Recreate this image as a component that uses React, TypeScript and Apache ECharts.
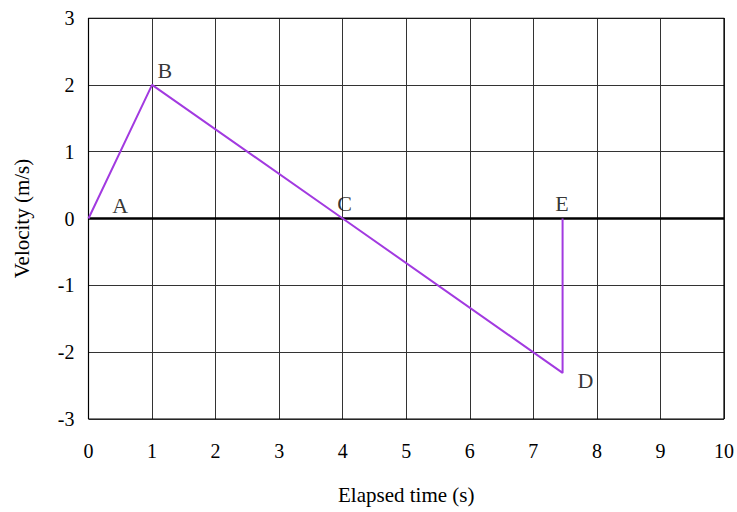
import React, { useEffect, useRef } from "react";
import * as echarts from "echarts";

const pathPoints: [number, number][] = [
  [0, 0],
  [1, 2],
  [4, 0],
  [7.46, -2.31],
  [7.46, 0],
];
const pointLabels = ["A", "B", "C", "D", "E"];
const labelPositions: [number, number][] = [
  [0.5, 0.2],
  [1.2, 2.21],
  [4.03, 0.22],
  [7.82, -2.42],
  [7.45, 0.22],
];
const xTicks = [0, 1, 2, 3, 4, 5, 6, 7, 8, 9, 10];
const yTicks = [-3, -2, -1, 0, 1, 2, 3];

const FONT = "'Liberation Serif', 'DejaVu Serif', serif";

export default function App() {
  const ref = useRef<HTMLDivElement>(null);
  useEffect(() => {
    if (!ref.current) return;
    const chart = echarts.init(ref.current, undefined, { renderer: "svg" });
    chart.setOption({
      animation: false,
      backgroundColor: "#ffffff",
      grid: { left: 88.5, right: 13, top: 18, bottom: 93 },
      xAxis: {
        type: "value",
        min: xTicks[0],
        max: xTicks[xTicks.length - 1],
        interval: 1,
        name: "Elapsed time (s)",
        nameLocation: "middle",
        nameGap: 65,
        nameTextStyle: { fontFamily: FONT, fontSize: 21, color: "#000" },
        axisLine: { show: false },
        axisTick: { show: false },
        axisLabel: { fontFamily: FONT, fontSize: 20, color: "#000", margin: 22 },
        splitLine: { show: true, lineStyle: { color: "#333", width: 1 } },
      },
      yAxis: {
        type: "value",
        min: yTicks[0],
        max: yTicks[yTicks.length - 1],
        interval: 1,
        name: "Velocity (m/s)",
        nameLocation: "middle",
        nameGap: 56,
        nameRotate: 90,
        nameTextStyle: { fontFamily: FONT, fontSize: 21, color: "#000" },
        axisLine: { show: false },
        axisTick: { show: false },
        axisLabel: { fontFamily: FONT, fontSize: 20, color: "#000", margin: 14 },
        splitLine: { show: true, lineStyle: { color: "#333", width: 1 } },
      },
      series: [
        {
          type: "line",
          data: [
            [xTicks[0], 0],
            [xTicks[xTicks.length - 1], 0],
          ],
          symbol: "none",
          lineStyle: { color: "#000", width: 2.5 },
          silent: true,
          z: 2,
        },
        {
          type: "line",
          data: [
            [xTicks[0], yTicks[0]],
            [xTicks[xTicks.length - 1], yTicks[0]],
            [xTicks[xTicks.length - 1], yTicks[yTicks.length - 1]],
            [xTicks[0], yTicks[yTicks.length - 1]],
            [xTicks[0], yTicks[0]],
          ],
          symbol: "none",
          lineStyle: { color: "#000", width: 1.2 },
          silent: true,
          z: 2,
        },
        {
          type: "line",
          data: pathPoints,
          symbol: "none",
          lineStyle: { color: "#a23ae0", width: 2 },
          z: 3,
        },
        {
          type: "scatter",
          data: labelPositions.map((p, i) => ({ value: p, name: pointLabels[i] })),
          symbolSize: 0,
          label: {
            show: true,
            position: "inside",
            formatter: (p: any) => p.name,
            fontFamily: FONT,
            fontSize: 22,
            color: "#000",
          },
          z: 4,
        },
      ],
    });
    return () => chart.dispose();
  }, []);
  return <div ref={ref} style={{ width: 737, height: 512, position: "absolute", left: 0, top: 0 }} />;
}
